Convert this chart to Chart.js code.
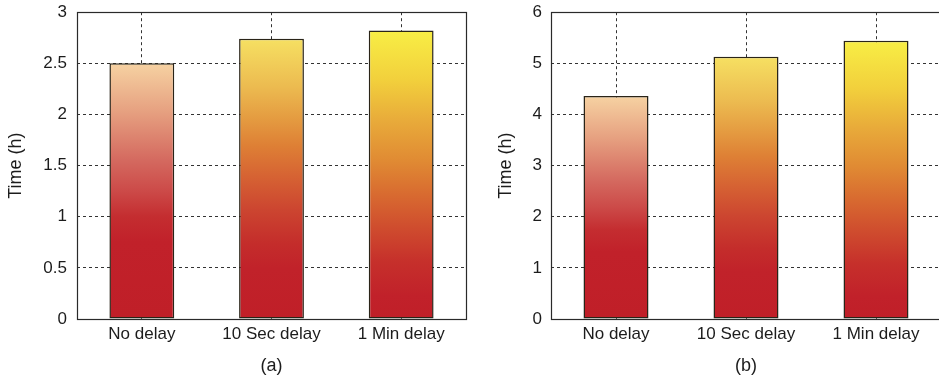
<!DOCTYPE html>
<html>
<head>
<meta charset="utf-8">
<script src="https://cdn.jsdelivr.net/npm/chart.js"></script>
<style>
  html, body { margin: 0; padding: 0; background: #fff; overflow: hidden; }
  body { width: 939px; height: 383px; position: relative; }
  .panel { position: absolute; top: 0; }
</style>
</head>
<body>
<div class="panel" style="left:0"><canvas id="chartA" width="470" height="383"></canvas></div>
<div class="panel" style="left:470px"><canvas id="chartB" width="472" height="383"></canvas></div>
<script>
// categories and values
const categories = ['No delay', '10 Sec delay', '1 Min delay'];
const timeA = [2.5, 2.74, 2.82];   // panel (a), hours
const timeB = [4.36, 5.13, 5.44];  // panel (b), hours
const ticksA = { max: 3, step: 0.5 };
const ticksB = { max: 6, step: 1 };

// gradient stops per bar, bottom (0) to top (1)
const barStops = [
  [[0, '#c01f28'], [0.3, '#c1212a'], [0.4, '#c42d30'], [0.5, '#cc4a48'], [0.62, '#d4695f'], [0.81, '#e6a080'], [1, '#f6d2a2']],
  [[0, '#c01f28'], [0.18, '#c1222a'], [0.27, '#c42d2b'], [0.39, '#cc4530'], [0.51, '#d66333'], [0.62, '#de8035'], [0.71, '#e49a40'], [0.83, '#ecbb50'], [1, '#f6e062']],
  [[0, '#c01f28'], [0.08, '#c1212a'], [0.2, '#c6302b'], [0.315, '#cf4c2e'], [0.43, '#d86a30'], [0.547, '#e08a33'], [0.685, '#e8aa3a'], [0.83, '#f2d03c'], [1, '#f8ee45']]
];

const FONT = "'Liberation Sans', Arial, sans-serif";
const INK = '#1c1c1c';

function barFill(ctx) {
  const chart = ctx.chart;
  if (!chart.chartArea || !chart.scales.y) return barStops[ctx.dataIndex][0][1];
  const y = chart.scales.y;
  const top = y.getPixelForValue(ctx.raw);
  const bottom = y.getPixelForValue(0);
  const g = chart.ctx.createLinearGradient(0, bottom, 0, top);
  barStops[ctx.dataIndex].forEach(s => g.addColorStop(s[0], s[1]));
  return g;
}

// solid frame round the plot area
const frame = {
  id: 'frame',
  afterDraw(chart) {
    const a = chart.chartArea;
    const c = chart.ctx;
    c.save();
    c.strokeStyle = '#2a2a2a';
    c.lineWidth = 1.2;
    c.strokeRect(Math.round(a.left) + 0.5, Math.round(a.top) + 0.5,
      Math.round(a.right - a.left), Math.round(a.bottom - a.top));
    c.restore();
  }
};

function makeChart(id, values, ticks, tag, yWidth, titlePad, tickGap, padRight) {
  return new Chart(document.getElementById(id), {
    type: 'bar',
    data: {
      labels: categories,
      datasets: [{
        data: values,
        backgroundColor: barFill,
        borderColor: '#2a2418',
        borderWidth: 1.5,
        borderSkipped: false,
        categoryPercentage: 1,
        barPercentage: 0.5
      }]
    },
    options: {
      responsive: false,
      devicePixelRatio: 1,
      animation: false,
      layout: { padding: { top: 0, right: padRight, left: 0, bottom: 0 } },
      plugins: { legend: { display: false }, tooltip: { enabled: false } },
      scales: {
        x: {
          grid: { offset: false, drawTicks: false, color: '#333', lineWidth: 1 },
          border: { display: false, dash: [3, 3] },
          ticks: { color: INK, font: { family: FONT, size: 17 }, padding: 5, maxRotation: 0 },
          title: { display: true, text: tag, color: INK, font: { family: FONT, size: 18 }, padding: { top: 0, bottom: 6 } },
          afterFit: s => { s.height = 64; }
        },
        y: {
          min: 0,
          max: ticks.max,
          // invisible tick marks push labels away without adding top padding
          grid: { drawTicks: true, tickLength: tickGap, tickColor: 'rgba(0,0,0,0)', color: '#333', lineWidth: 1 },
          border: { display: false, dash: [3, 3] },
          ticks: { stepSize: ticks.step, color: INK, font: { family: FONT, size: 17 }, padding: 2,
                   callback: v => String(v) },
          title: { display: true, text: 'Time (h)', color: INK, font: { family: FONT, size: 18 }, padding: { top: titlePad, bottom: 0 } },
          afterFit: s => { s.width = yWidth; }
        }
      }
    },
    plugins: [frame]
  });
}

makeChart('chartA', timeA, ticksA, '(a)', 77, 5, 8, 4);
makeChart('chartB', timeB, ticksB, '(b)', 81, 25, 7, 1);
</script>
</body>
</html>
